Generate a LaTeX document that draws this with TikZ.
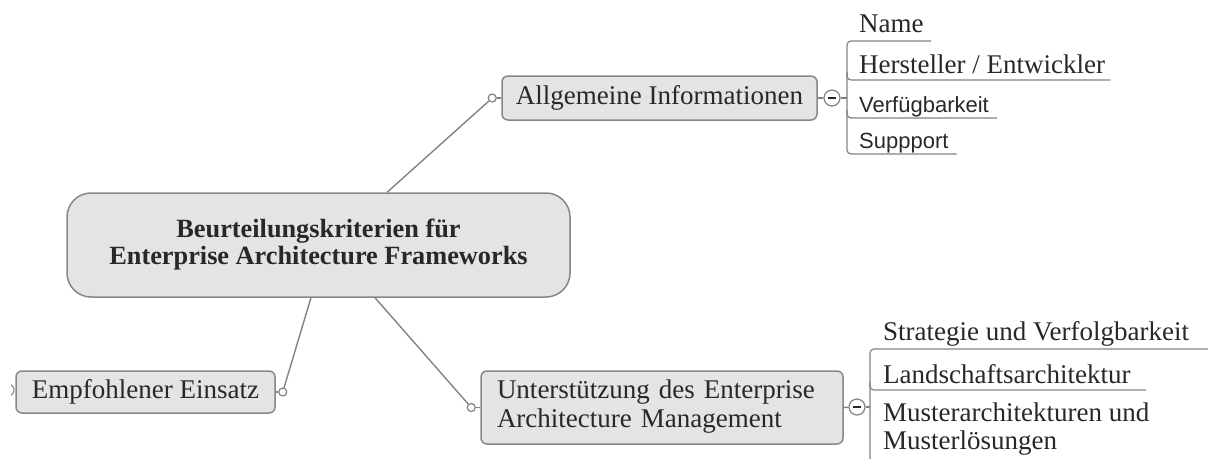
\documentclass[tikz,border=0pt]{standalone}
\usepackage{fontspec}
\setmainfont{Liberation Serif}
\newfontfamily\leafsans{Liberation Sans}
\usetikzlibrary{calc}
\definecolor{boxfill}{RGB}{228,228,228}
\definecolor{boxline}{RGB}{135,135,135}
\definecolor{linkc}{RGB}{130,130,130}
\definecolor{txt}{RGB}{40,40,40}
\begin{document}
\begin{tikzpicture}[x=1pt,y=-1pt,
  topic/.style={draw=boxline, fill=boxfill, line width=1.5pt, rounded corners=6pt,
    inner sep=0pt, text=txt, font=\fontsize{27}{28}\selectfont},
  maintopic/.style={topic, rounded corners=24pt, font=\bfseries\fontsize{26.3}{28}\selectfont},
  link/.style={draw=linkc, line width=1.4pt},
  knob/.style={circle, draw=linkc, fill=white, line width=1.2pt, minimum size=8pt, inner sep=0pt},
  toggle/.style={circle, draw=linkc, fill=white, line width=1.2pt, minimum size=16pt, inner sep=0pt},
  leaf/.style={anchor=base west, inner sep=0pt, text=txt, font=\fontsize{27}{28}\selectfont},
  sansleaf/.style={leaf, font=\leafsans\fontsize{22}{24}\selectfont},
  bracket/.style={link, line width=1.2pt, rounded corners=4pt}]
\useasboundingbox (0,0) rectangle (1208,459);

% central topic
\node[maintopic, minimum width=503pt, minimum height=104pt, align=center] (cen) at (318.5,245)
  {\raisebox{-6pt}{\begin{tabular}{@{}c@{}}Beurteilungskriterien für\\[-1pt]Enterprise Architecture Frameworks\end{tabular}}};

% main branches
\node[topic, minimum width=315pt, minimum height=44pt] (allg) at (659.5,98) {\raisebox{-2.5pt}{Allgemeine Informationen}};
\node[topic, minimum width=259pt, minimum height=42pt] (emp) at (145.5,392) {\raisebox{-2.5pt}{Empfohlener Einsatz}};
\node[topic, minimum width=362pt, minimum height=73pt, text width=330pt, align=left] (ust) at (662,407.5)
  {\raisebox{-4pt}{\begin{tabular}{@{}l@{}}Unterstützung des Enterprise\\[1pt]Architecture Management\end{tabular}}};

% connectors from the central topic with their end knobs
\node[knob] (kallg) at ($(allg.west)+(-9,0)$) {};
\node[knob] (kemp) at ($(emp.east)+(7,0)$) {};
\node[knob] (kust) at ($(ust.west)+(-9,0)$) {};
\draw[link] ($(cen.north west)!0.636!(cen.north east)$) -- (kallg);
\draw[link] ($(cen.south west)!0.485!(cen.south east)$) -- (kemp);
\draw[link] ($(cen.south west)!0.612!(cen.south east)$) -- (kust);
\draw[link] (kallg) -- (allg.west);
\draw[link] (kemp) -- (emp.east);
\draw[link] (kust) -- (ust.west);
% knob of the parent branch on the left
\coordinate (kleft) at (8,390);
\draw[link, line width=1.1pt] ($(kleft)+(3,-5.2)$) arc[start angle=-60, end angle=60, radius=6];

% collapse toggles
\node[toggle] (tallg) at (832,98) {};
\draw[txt, line width=1.6pt] ($(tallg.center)+(-4,0)$) -- ($(tallg.center)+(4,0)$);
\node[toggle] (tust) at (857,407) {};
\draw[txt, line width=1.6pt] ($(tust.center)+(-4,0)$) -- ($(tust.center)+(4,0)$);
\draw[link] (allg.east) -- (tallg);
\draw[link] (ust.east) -- (tust);

% sub-topics of "Allgemeine Informationen"
\node[leaf] (name) at (859,32) {Name};
\node[leaf] (hers) at (859,73) {Hersteller / Entwickler};
\node[sansleaf] (verf) at (859,112) {Verfügbarkeit};
\node[sansleaf] (supp) at (859,148) {Suppport};
\coordinate (ba) at (847,98);
\draw[link, line width=1.2pt] (tallg.east) -- (ba);
\draw[bracket] ($(name.base east)+(7,9)$) -- (ba |- 0,41) -- (ba |- 0,154) -- ($(supp.base east)+(8,6)$);
\draw[bracket] (ba |- 0,72) -- (ba |- 0,80) -- ($(hers.base east)+(5,7)$);
\draw[bracket] (ba |- 0,110) -- (ba |- 0,118) -- ($(verf.base east)+(8,6)$);

% sub-topics of "Unterstützung des Enterprise Architecture Management"
\node[leaf] (strat) at (883,340) {Strategie und Verfolgbarkeit};
\node[leaf] (land) at (883,383) {Landschaftsarchitektur};
\node[leaf, align=left, anchor=north west] (must) at (883,403) {Musterarchitekturen und\\Musterlösungen};
\coordinate (bu) at (870,407);
\draw[link, line width=1.2pt] (tust.east) -- (bu);
\draw[bracket] (1208,349) -- (bu |- 0,349) -- (bu |- 0,459);
\draw[bracket] (bu |- 0,382) -- (bu |- 0,390) -- ($(land.base east)+(15,7)$);
\end{tikzpicture}
\end{document}
